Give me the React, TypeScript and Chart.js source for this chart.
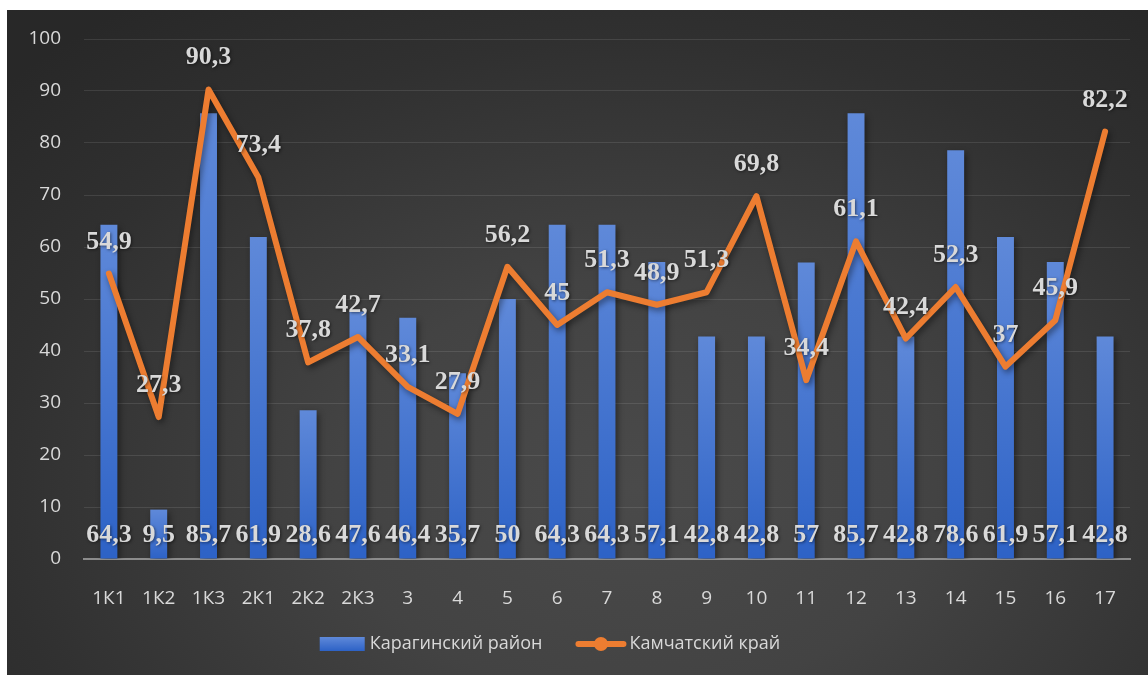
import React, { useEffect, useRef } from 'react';
import { Chart, registerables } from 'chart.js';

Chart.register(...registerables);

// ---- data ----
const categories = ['1К1', '1К2', '1К3', '2К1', '2К2', '2К3', '3', '4', '5', '6', '7', '8', '9', '10', '11', '12', '13', '14', '15', '16', '17'];
const karaginskyValues = [64.3, 9.5, 85.7, 61.9, 28.6, 47.6, 46.4, 35.7, 50, 64.3, 64.3, 57.1, 42.8, 42.8, 57, 85.7, 42.8, 78.6, 61.9, 57.1, 42.8];
const kamchatkaValues = [54.9, 27.3, 90.3, 73.4, 37.8, 42.7, 33.1, 27.9, 56.2, 45, 51.3, 48.9, 51.3, 69.8, 34.4, 61.1, 42.4, 52.3, 37, 45.9, 82.2];
const seriesNames = ['Карагинский район', 'Камчатский край'];
const yMin = 0;
const yMax = 100;
const yStep = 10;

// ---- styles ----
const TEXT_COLOR = '#d9d9d9';
const AXIS_FONT = "'Open Sans', 'Noto Sans', sans-serif";
const LABEL_FONT = "bold 26px 'Liberation Serif', 'Times New Roman', serif";
const ORANGE = '#ed7d31';
const BAR_TOP = '#5f89d9';
const BAR_BOTTOM = '#2d62c6';

const fmt = (v: number) => String(v).replace('.', ',');

const shadowPlugin = {
  id: 'dsShadow',
  beforeDatasetDraw(chart: any) {
    const ctx = chart.ctx;
    ctx.save();
    ctx.shadowColor = 'rgba(0,0,0,0.45)';
    ctx.shadowBlur = 6;
    ctx.shadowOffsetX = 2;
    ctx.shadowOffsetY = 3;
  },
  afterDatasetDraw(chart: any) {
    chart.ctx.restore();
  },
};

const dataLabelPlugin = {
  id: 'dataLabels',
  afterDatasetsDraw(chart: any) {
    const ctx = chart.ctx;
    const yScale = chart.scales.y;
    const base = yScale.getPixelForValue(0);
    ctx.save();
    ctx.font = LABEL_FONT;
    ctx.fillStyle = TEXT_COLOR;
    ctx.textAlign = 'center';
    ctx.textBaseline = 'alphabetic';
    ctx.shadowColor = 'rgba(0,0,0,0.5)';
    ctx.shadowBlur = 3;
    ctx.shadowOffsetX = 1;
    ctx.shadowOffsetY = 1;
    const barData = chart.data.datasets[0].data as number[];
    chart.getDatasetMeta(0).data.forEach((el: any, i: number) => {
      ctx.fillText(fmt(barData[i]), el.x, base - 17);
    });
    const lineData = chart.data.datasets[1].data as number[];
    chart.getDatasetMeta(1).data.forEach((el: any, i: number) => {
      ctx.fillText(fmt(lineData[i]), el.x, el.y - 25);
    });
    ctx.restore();
  },
};

const legendPlugin = {
  id: 'customLegend',
  afterDraw(chart: any) {
    const ctx = chart.ctx;
    const cy = 634;
    const cx = 543;
    ctx.save();
    ctx.font = `18px ${AXIS_FONT}`;
    const w1 = ctx.measureText(seriesNames[0]).width;
    const w2 = ctx.measureText(seriesNames[1]).width;
    const barSw = 45, gap1 = 5, between = 33, lineSw = 51, gap2 = 3;
    const total = barSw + gap1 + w1 + between + lineSw + gap2 + w2;
    let x = cx - total / 2;
    // bar swatch
    const g = ctx.createLinearGradient(0, cy - 7, 0, cy + 7);
    g.addColorStop(0, BAR_TOP);
    g.addColorStop(1, BAR_BOTTOM);
    ctx.fillStyle = g;
    ctx.fillRect(x, cy - 7, barSw, 14);
    x += barSw + gap1;
    ctx.fillStyle = TEXT_COLOR;
    ctx.textAlign = 'left';
    ctx.textBaseline = 'middle';
    ctx.fillText(seriesNames[0], x, cy);
    x += w1 + between;
    // line swatch
    ctx.strokeStyle = ORANGE;
    ctx.lineWidth = 6;
    ctx.lineCap = 'round';
    ctx.beginPath();
    ctx.moveTo(x + 3, cy);
    ctx.lineTo(x + lineSw - 3, cy);
    ctx.stroke();
    ctx.fillStyle = ORANGE;
    ctx.beginPath();
    ctx.arc(x + lineSw / 2, cy, 7, 0, Math.PI * 2);
    ctx.fill();
    x += lineSw + gap2;
    ctx.fillStyle = TEXT_COLOR;
    ctx.fillText(seriesNames[1], x, cy);
    ctx.restore();
  },
};

export default function App() {
  const canvasRef = useRef<HTMLCanvasElement | null>(null);

  useEffect(() => {
    if (!canvasRef.current) return;
    const chart = new Chart(canvasRef.current, {
      type: 'bar',
      data: {
        labels: categories,
        datasets: [
          {
            type: 'bar',
            label: seriesNames[0],
            data: karaginskyValues,
            order: 1,
            barPercentage: 0.34,
            categoryPercentage: 1,
            borderWidth: 0,
            backgroundColor: (c: any) => {
              const ch = c.chart;
              if (!ch.chartArea || c.type !== 'data') return '#4472c4';
              const ys = ch.scales.y;
              const top = ys.getPixelForValue(c.raw);
              const bottom = ys.getPixelForValue(0);
              const gr = ch.ctx.createLinearGradient(0, top, 0, bottom);
              gr.addColorStop(0, BAR_TOP);
              gr.addColorStop(1, BAR_BOTTOM);
              return gr;
            },
          },
          {
            type: 'line',
            label: seriesNames[1],
            data: kamchatkaValues,
            order: 0,
            borderColor: ORANGE,
            backgroundColor: ORANGE,
            borderWidth: 6,
            borderJoinStyle: 'round',
            borderCapStyle: 'round',
            pointRadius: 0,
            tension: 0,
          },
        ],
      } as any,
      options: {
        responsive: false,
        animation: false,
        layout: { padding: { top: 29, right: 18, bottom: 66, left: 0 } },
        plugins: {
          legend: { display: false },
          tooltip: { enabled: false },
        },
        scales: {
          x: {
            grid: { display: false },
            border: { display: true, color: '#8c8c8c', width: 2 },
            ticks: {
              color: TEXT_COLOR,
              font: { family: AXIS_FONT, size: 19 },
              padding: 20,
              maxRotation: 0,
              autoSkip: false,
            },
            afterFit: (s: any) => { s.height = 50; },
          },
          y: {
            min: yMin,
            max: yMax,
            ticks: {
              stepSize: yStep,
              color: TEXT_COLOR,
              font: { family: AXIS_FONT, size: 19 },
              padding: 0,
            },
            grid: {
              color: 'rgba(255,255,255,0.1)',
              lineWidth: 1,
              drawTicks: true,
              tickLength: 23,
              tickColor: 'rgba(0,0,0,0)',
            },
            border: { display: false },
            afterFit: (s: any) => { s.width = 77; },
          },
        },
      } as any,
      plugins: [shadowPlugin, dataLabelPlugin, legendPlugin],
    });
    return () => chart.destroy();
  }, []);

  return (
    <div
      style={{
        position: 'fixed',
        left: 7,
        top: 10,
        width: 1141,
        height: 665,
        background:
          'radial-gradient(ellipse 75% 90% at 55% 72%, #4a4a4a 0%, #434343 35%, #303030 75%, #282828 100%)',
      }}
    >
      <canvas ref={canvasRef} width={1141} height={665} style={{ display: 'block' }} />
    </div>
  );
}
